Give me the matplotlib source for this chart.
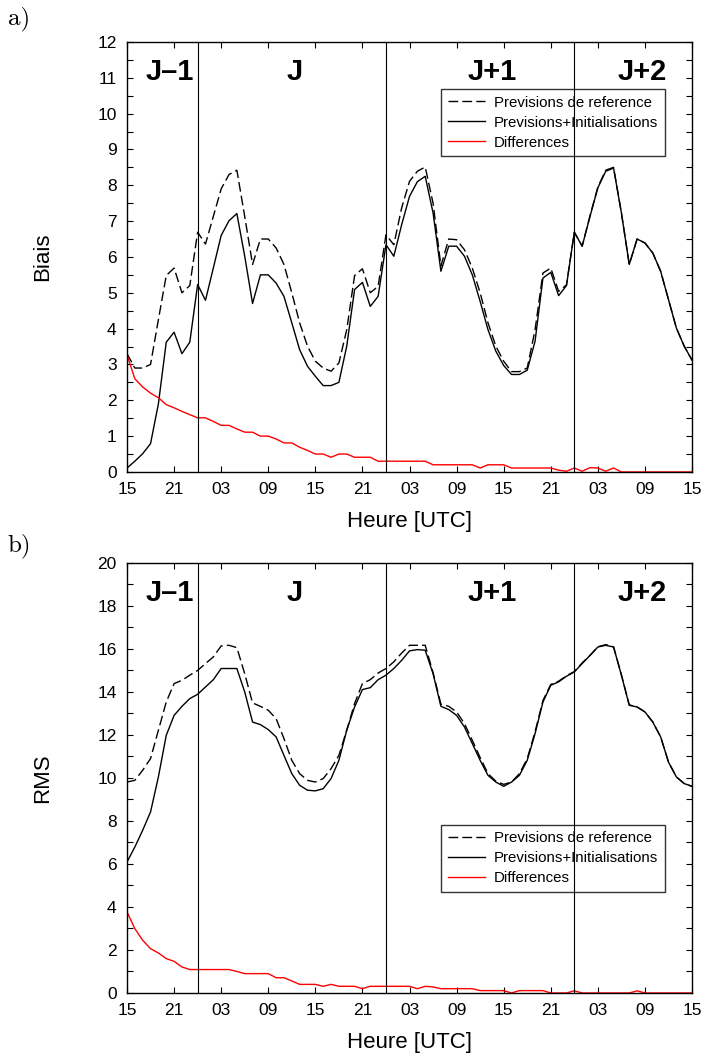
import numpy as np
import matplotlib
matplotlib.use("Agg")
import matplotlib.pyplot as plt
from matplotlib.ticker import MultipleLocator

# hourly steps, 15 UTC day J-1 -> 15 UTC day J+2
hours = np.arange(73)
xtick_pos = np.arange(0, 73, 6)
xtick_labels = ["15", "21", "03", "09", "15", "21", "03", "09",
                "15", "21", "03", "09", "15"]
day_bounds = [9, 33, 57]  # 00 UTC
day_names = ["J\u20131", "J", "J+1", "J+2"]
day_pos = [5.4, 21.4, 46.5, 65.7]

biais_ref = [3.30, 2.90, 2.90, 3.00, 4.25, 5.48, 5.69, 5.00, 5.20, 6.69,
             6.36, 7.13, 7.90, 8.30, 8.42, 7.13, 5.79, 6.50, 6.50, 6.25,
             5.79, 5.00, 4.16, 3.51, 3.09, 2.90, 2.81, 3.04, 3.97, 5.48,
             5.67, 5.00, 5.18, 6.62, 6.34, 7.37, 8.11, 8.39, 8.51, 7.50,
             5.75, 6.50, 6.48, 6.20, 5.69, 5.00, 4.16, 3.51, 3.09, 2.80,
             2.80, 2.90, 3.97, 5.55, 5.69, 5.04, 5.22, 6.69, 6.30, 7.15,
             7.95, 8.42, 8.50, 7.23, 5.79, 6.50, 6.39, 6.11, 5.60, 4.81,
             4.02, 3.51, 3.12]
biais_init = [0.11, 0.30, 0.51, 0.79, 1.90, 3.62, 3.90, 3.30, 3.62, 5.23,
              4.79, 5.69, 6.60, 7.01, 7.21, 6.02, 4.70, 5.50, 5.50, 5.27,
              4.90, 4.16, 3.41, 2.95, 2.67, 2.41, 2.41, 2.50, 3.51, 5.09,
              5.29, 4.62, 4.90, 6.34, 6.02, 6.90, 7.69, 8.10, 8.25, 7.23,
              5.60, 6.30, 6.30, 6.02, 5.50, 4.76, 3.97, 3.37, 2.97, 2.72,
              2.72, 2.84, 3.65, 5.41, 5.57, 4.92, 5.20, 6.69, 6.30, 7.13,
              7.93, 8.39, 8.48, 7.23, 5.79, 6.50, 6.39, 6.11, 5.60, 4.81,
              4.02, 3.51, 3.12]
biais_diff = [3.27, 2.60, 2.37, 2.20, 2.07, 1.88, 1.79, 1.69, 1.60, 1.51,
              1.51, 1.41, 1.30, 1.30, 1.20, 1.11, 1.11, 1.00, 1.00, 0.92,
              0.81, 0.81, 0.69, 0.60, 0.50, 0.50, 0.41, 0.50, 0.50, 0.41,
              0.41, 0.41, 0.30, 0.30, 0.30, 0.30, 0.30, 0.30, 0.30, 0.20,
              0.20, 0.20, 0.20, 0.20, 0.20, 0.11, 0.20, 0.20, 0.20, 0.11,
              0.11, 0.11, 0.11, 0.11, 0.11, 0.05, 0.02, 0.11, 0.02, 0.12,
              0.11, 0.02, 0.11, 0.00, 0.00, 0.00, 0.00, 0.00, 0.00, 0.00,
              0.00, 0.00, 0.00]

rms_ref = [9.81, 9.89, 10.36, 10.90, 12.22, 13.53, 14.39, 14.54, 14.78, 15.00,
           15.32, 15.63, 16.14, 16.17, 16.06, 14.85, 13.49, 13.33, 13.15, 12.76,
           11.83, 10.82, 10.20, 9.89, 9.81, 9.97, 10.43, 11.05, 12.22, 13.46,
           14.39, 14.57, 14.88, 15.09, 15.40, 15.81, 16.17, 16.17, 16.17, 14.90,
           13.43, 13.33, 13.07, 12.53, 11.75, 10.95, 10.20, 9.85, 9.70, 9.81,
           10.20, 10.90, 12.15, 13.60, 14.35, 14.50, 14.75, 14.95, 15.35, 15.70,
           16.10, 16.20, 16.10, 14.80, 13.40, 13.30, 13.07, 12.60, 11.91, 10.74,
           10.05, 9.74, 9.61]
rms_init = [6.09, 6.79, 7.57, 8.42, 10.05, 11.98, 12.91, 13.33, 13.69, 13.89,
            14.23, 14.57, 15.09, 15.09, 15.09, 14.00, 12.60, 12.48, 12.25, 11.91,
            11.05, 10.20, 9.66, 9.43, 9.40, 9.50, 9.97, 10.82, 12.22, 13.30,
            14.11, 14.20, 14.57, 14.78, 15.09, 15.47, 15.91, 15.97, 15.94, 14.85,
            13.33, 13.18, 12.91, 12.37, 11.60, 10.82, 10.12, 9.81, 9.61, 9.81,
            10.12, 10.82, 12.06, 13.53, 14.31, 14.47, 14.73, 14.93, 15.32, 15.70,
            16.09, 16.17, 16.09, 14.78, 13.38, 13.30, 13.07, 12.60, 11.91, 10.74,
            10.05, 9.74, 9.61]
rms_diff = [3.77, 2.99, 2.45, 2.06, 1.86, 1.60, 1.47, 1.21, 1.09, 1.09,
            1.09, 1.09, 1.09, 1.09, 1.00, 0.90, 0.90, 0.90, 0.90, 0.71,
            0.71, 0.56, 0.40, 0.40, 0.40, 0.31, 0.40, 0.31, 0.31, 0.31,
            0.20, 0.31, 0.31, 0.31, 0.31, 0.31, 0.31, 0.20, 0.31, 0.28,
            0.20, 0.20, 0.20, 0.20, 0.20, 0.11, 0.11, 0.11, 0.11, 0.00,
            0.11, 0.11, 0.11, 0.11, 0.00, 0.00, 0.00, 0.10, 0.00, 0.00,
            0.00, 0.00, 0.00, 0.00, 0.00, 0.10, 0.00, 0.00, 0.00, 0.00,
            0.00, 0.00, 0.00]

plt.rcParams["font.family"] = ["Liberation Sans", "DejaVu Sans"]


def draw_panel(ax, ref, init, diff, ymax, ystep, ylabel, leg_top):
    ax.plot(hours, ref, color="black", lw=1.0, ls=(0, (7, 3)),
            label="Previsions de reference")
    ax.plot(hours, init, color="black", lw=1.0,
            label="Previsions+Initialisations")
    ax.plot(hours, diff, color="red", lw=1.0, label="Differences")
    for b in day_bounds:
        ax.axvline(b, color="black", lw=0.8)
    for name, x in zip(day_names, day_pos):
        ax.text(x, 0.93, name, transform=ax.get_xaxis_transform(),
                ha="center", va="center", fontsize=21, fontweight="bold")

    ax.set_xlim(0, 72)
    ax.set_ylim(0, ymax)
    ax.set_xticks(xtick_pos)
    ax.set_xticklabels(xtick_labels)
    ax.yaxis.set_major_locator(MultipleLocator(ystep))
    ax.yaxis.set_minor_locator(MultipleLocator(ystep / 2))
    ax.tick_params(which="both", direction="in", top=True, right=True,
                   length=4.5, width=0.8, labelsize=12.5, pad=7.5)
    for sp in ax.spines.values():
        sp.set_linewidth(1.0)
    ax.set_xlabel("Heure [UTC]", fontsize=16, labelpad=10)
    ax.set_ylabel(ylabel, fontsize=16, labelpad=32)

    leg = ax.legend(loc="upper left", bbox_to_anchor=(0.5558, leg_top),
                    borderaxespad=0, fontsize=10.8, frameon=True,
                    fancybox=False, handlelength=2.5, handletextpad=0.55,
                    labelspacing=0.4, borderpad=0.45)
    leg.get_frame().set_facecolor("none")
    leg.get_frame().set_edgecolor("black")
    leg.get_frame().set_linewidth(1.0)


fig = plt.figure(figsize=(7.04, 10.53), dpi=100)
ax_a = fig.add_axes([0.1804, 0.5518, 0.8026, 0.4084])
ax_b = fig.add_axes([0.1804, 0.0570, 0.8026, 0.4084])

draw_panel(ax_a, biais_ref, biais_init, biais_diff, 12, 1, "Biais", 0.8907)
draw_panel(ax_b, rms_ref, rms_init, rms_diff, 20, 2, "RMS", 0.3914)

fig.text(0.027, 0.982, "a)", family="cmr10", fontsize=18, ha="center", va="center")
fig.text(0.027, 0.482, "b)", family="cmr10", fontsize=18, ha="center", va="center")

fig.savefig("out.png", dpi=100)
